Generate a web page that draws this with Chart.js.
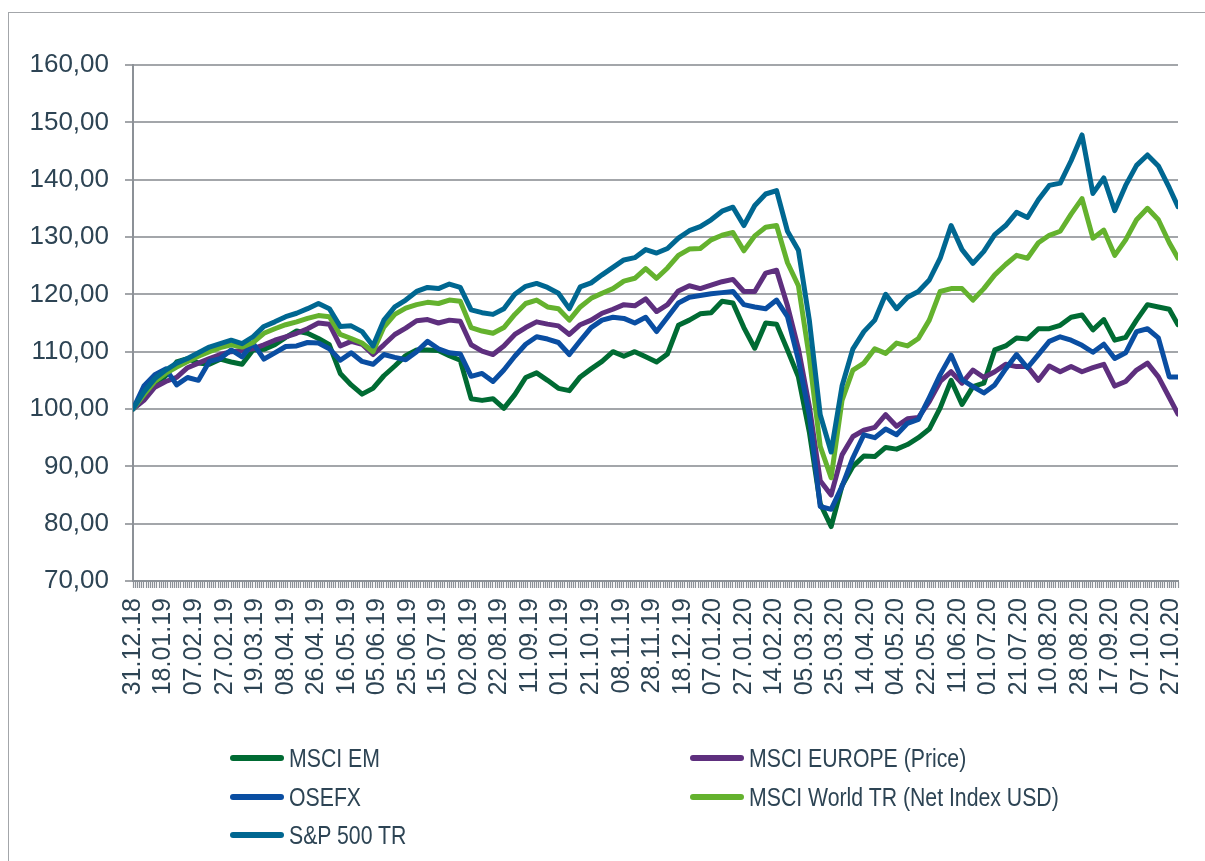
<!DOCTYPE html>
<html>
<head>
<meta charset="utf-8">
<script src="https://cdn.jsdelivr.net/npm/chart.js@4.4.0/dist/chart.umd.min.js"></script>
<style>
  html, body { margin: 0; padding: 0; background: #fff; }
  body { width: 1205px; height: 861px; position: relative; overflow: hidden; font-family: 'Liberation Sans', Arial, sans-serif; }
  #frame { position: absolute; left: 8px; top: 12px; width: 1400px; height: 1000px; border: 1px solid #a3a6aa; }
  #wrap { position: absolute; left: 0; top: 0; width: 1205px; height: 720px; }
  #legend { position: absolute; left: 0; top: 0; width: 1205px; height: 861px; }
  .item { position: absolute; height: 30px; display: flex; align-items: center; white-space: nowrap; }
  .swatch { width: 54px; height: 6px; border-radius: 3px; }
  .lbl { font-size: 25px; color: #2d4454; transform: scaleX(0.85); transform-origin: left center; margin-left: 5px; }
</style>
</head>
<body>
<div id="frame"></div>
<div id="wrap"><canvas id="chart"></canvas></div>
<div id="legend"></div>
<script>
// dates shown under the x axis, one every 14 trading days
const tickLabels = ['31.12.18', '18.01.19', '07.02.19', '27.02.19', '19.03.19', '08.04.19', '26.04.19',
  '16.05.19', '05.06.19', '25.06.19', '15.07.19', '02.08.19', '22.08.19', '11.09.19', '01.10.19',
  '21.10.19', '08.11.19', '28.11.19', '18.12.19', '07.01.20', '27.01.20', '14.02.20', '05.03.20',
  '25.03.20', '14.04.20', '04.05.20', '22.05.20', '11.06.20', '01.07.20', '21.07.20', '10.08.20',
  '28.08.20', '17.09.20', '07.10.20', '27.10.20'];
const lastDay = 479;

// index values, read every 5th trading day (last point = last day)
const msciEm = [100, 101.8, 104, 105.8, 108.2, 108.8, 108, 107.8, 108.7, 108.2,
  107.8, 110.3, 110.4, 111.2, 112.5, 113.6, 113.2, 112.3, 111.2, 106.2,
  104.2, 102.6, 103.6, 105.8, 107.5, 109.3, 110.3, 110.3, 110.2, 109.3,
  108.5, 101.8, 101.5, 101.8, 100.1, 102.5, 105.5, 106.3, 105, 103.6,
  103.2, 105.6, 107, 108.3, 110, 109.2, 110, 109.1, 108.2, 109.6,
  114.6, 115.5, 116.6, 116.8, 118.8, 118.5, 114.2, 110.6, 115, 114.8,
  110.3, 105.6, 96, 83.5, 79.5, 86.6, 90, 91.8, 91.7, 93.3,
  93, 93.8, 95, 96.5, 100.2, 105, 100.8, 103.9, 104.5, 110.3,
  111, 112.4, 112.2, 114, 114, 114.6, 116, 116.4, 113.8, 115.6,
  112, 112.5, 115.5, 118.2, 117.8, 117.4, 114.7];
const msciEurope = [100, 101.5, 103.8, 104.8, 105.5, 107.2, 108, 108.8, 109.5, 110,
  110.2, 110.5, 111.2, 112, 112.6, 113.2, 114, 115, 114.8, 111,
  111.8, 111.3, 109.5, 111.2, 113, 114.1, 115.4, 115.6, 115, 115.5,
  115.3, 111.2, 110.1, 109.5, 111, 113, 114.2, 115.2, 114.8, 114.5,
  113, 114.7, 115.5, 116.7, 117.4, 118.2, 118, 119.2, 117, 118.2,
  120.6, 121.5, 121, 121.6, 122.2, 122.6, 120.5, 120.5, 123.7, 124.2,
  118, 110.5, 100.5, 87.5, 85, 92, 95.2, 96.3, 96.8, 99,
  97, 98.3, 98.5, 101.3, 104.8, 106.5, 104.5, 106.8, 105.5, 106.5,
  107.8, 107.4, 107.4, 105, 107.5, 106.5, 107.4, 106.5, 107.2, 107.8,
  104, 104.8, 106.8, 108, 105.6, 102, 99.1];
const osefx = [100, 104, 106, 107, 104.2, 105.5, 105, 108.3, 108.8, 110.3,
  109.1, 111.5, 108.7, 109.8, 110.9, 111, 111.6, 111.5, 110.5, 108.5,
  109.8, 108.3, 107.8, 109.5, 109, 108.6, 110, 111.8, 110.5, 109.8,
  109.6, 105.7, 106.2, 104.8, 106.8, 109.2, 111.3, 112.6, 112.2, 111.6,
  109.5, 111.9, 114.2, 115.5, 116, 115.8, 115, 116, 113.5, 116,
  118.5, 119.5, 119.8, 120.1, 120.3, 120.5, 118.2, 117.8, 117.5, 119,
  116.1, 108.5, 99, 83, 82.5, 86.5, 91.5, 95.5, 95, 96.5,
  95.5, 97.5, 98.2, 102, 106, 109.4, 105.1, 103.9, 102.8, 104.2,
  107, 109.5, 107.2, 109.5, 111.8, 112.6, 112, 111.1, 109.9, 111.3,
  108.8, 109.8, 113.5, 114, 112.4, 105.6, 105.6];
const msciWorld = [100, 102.5, 104.8, 106.2, 107.3, 108.3, 109.2, 110, 110.7, 111.2,
  110.8, 111.6, 113.2, 114, 114.7, 115.2, 115.8, 116.3, 116.1, 113,
  112.3, 111.5, 110, 114.3, 116.5, 117.6, 118.2, 118.6, 118.4, 119,
  118.8, 114.2, 113.6, 113.2, 114.2, 116.5, 118.4, 119, 117.8, 117.5,
  115.5, 117.8, 119.3, 120.2, 121, 122.3, 122.8, 124.5, 122.8, 124.6,
  126.8, 127.9, 128, 129.5, 130.3, 130.8, 127.6, 130.2, 131.7, 132,
  125.5, 121.5, 109, 93.5, 88, 101.5, 106.8, 108, 110.5, 109.7,
  111.5, 111, 112.3, 115.5, 120.5, 121, 121, 119, 121, 123.4,
  125.2, 126.8, 126.3, 129, 130.3, 131, 134, 136.7, 129.8, 131.2,
  126.8, 129.5, 133, 135, 133, 129, 126.3];
const sp500 = [100, 103, 105.3, 106.8, 108, 108.8, 109.8, 110.8, 111.4, 112,
  111.4, 112.6, 114.4, 115.2, 116.1, 116.7, 117.5, 118.4, 117.5, 114.4,
  114.5, 113.5, 111, 115.5, 117.8, 119, 120.5, 121.2, 121, 121.8,
  121.2, 117.3, 116.8, 116.5, 117.5, 120, 121.4, 121.9, 121.2, 120.2,
  117.5, 121.3, 122, 123.4, 124.7, 126, 126.4, 127.8, 127.2, 128,
  129.8, 131.1, 131.8, 133, 134.5, 135.2, 132, 135.5, 137.5, 138.1,
  131, 127.7, 115.5, 99, 92.5, 104, 110.5, 113.5, 115.5, 120,
  117.5, 119.5, 120.5, 122.5, 126.3, 132, 127.8, 125.4, 127.5, 130.4,
  132, 134.3, 133.4, 136.5, 139, 139.4, 143.3, 147.8, 137.6, 140.3,
  134.6, 139, 142.5, 144.3, 142.4, 138.6, 135.3];

const seriesNames = ['MSCI EM', 'MSCI EUROPE (Price)', 'OSEFX', 'MSCI World TR (Net Index USD)', 'S&P 500 TR'];
const seriesColors = ['#006b33', '#5e2f7e', '#0a4ea2', '#64b22e', '#006791'];
const seriesValues = [msciEm, msciEurope, osefx, msciWorld, sp500];

const textColor = '#2d4454';
const gridColor = '#a3a6aa';

// trading-day position of each sample
const sampleDays = msciEm.map(function (v, i) { return i < msciEm.length - 1 ? i * 5 : lastDay; });

const datasets = seriesNames.map(function (name, s) {
  return {
    label: name,
    data: seriesValues[s].map(function (v, i) { return { x: sampleDays[i], y: v }; }),
    borderColor: seriesColors[s],
    backgroundColor: seriesColors[s],
    borderWidth: 5,
    pointRadius: 0,
    tension: 0,
    borderJoinStyle: 'round',
    borderCapStyle: 'round',
    order: seriesNames.length - 1 - s // later series drawn on top, like excel
  };
});

const ctx = document.getElementById('chart').getContext('2d');
const chart = new Chart(ctx, {
  type: 'line',
  data: { datasets: datasets },
  options: {
    responsive: true,
    maintainAspectRatio: false,
    animation: false,
    layout: { padding: { left: 0, top: 65, right: 27, bottom: 0 } },
    plugins: {
      legend: { display: false },
      tooltip: { enabled: false }
    },
    scales: {
      x: {
        type: 'linear',
        min: 0,
        max: lastDay,
        afterFit: function (scale) {
          scale.height = 139;
          // rotated end labels should not squeeze the plot
          scale.paddingLeft = 0;
          scale.paddingRight = 0;
        },
        border: { display: true, color: '#8c9197', width: 2 },
        grid: {
          drawOnChartArea: false,
          drawTicks: true,
          tickLength: 7,
          tickWidth: 1.2,
          tickColor: '#8c9197'
        },
        ticks: {
          stepSize: 1,
          autoSkip: false,
          minRotation: 90,
          maxRotation: 90,
          padding: 10,
          color: textColor,
          font: { family: "'Liberation Sans', Arial, sans-serif", size: 25 },
          callback: function (value) {
            return value % 14 === 0 ? tickLabels[value / 14] : '';
          }
        }
      },
      y: {
        min: 70,
        max: 160,
        afterFit: function (scale) { scale.width = 133; },
        border: { display: true, color: '#8c9197', width: 2 },
        grid: {
          color: gridColor,
          lineWidth: 2,
          tickLength: 8
        },
        ticks: {
          stepSize: 10,
          padding: 16,
          color: textColor,
          font: { family: "'Liberation Sans', Arial, sans-serif", size: 26 },
          callback: function (value) { return value.toFixed(2).replace('.', ','); }
        }
      }
    }
  }
});

// legend in two columns below the chart
const legendSlots = [[230, 758], [690, 758], [230, 797], [690, 797], [230, 835]];
const legendEl = document.getElementById('legend');
seriesNames.forEach(function (name, s) {
  const item = document.createElement('div');
  item.className = 'item';
  item.style.left = legendSlots[s][0] + 'px';
  item.style.top = (legendSlots[s][1] - 15) + 'px';
  const sw = document.createElement('div');
  sw.className = 'swatch';
  sw.style.background = seriesColors[s];
  const lbl = document.createElement('span');
  lbl.className = 'lbl';
  lbl.textContent = name;
  item.appendChild(sw);
  item.appendChild(lbl);
  legendEl.appendChild(item);
});
</script>
</body>
</html>
